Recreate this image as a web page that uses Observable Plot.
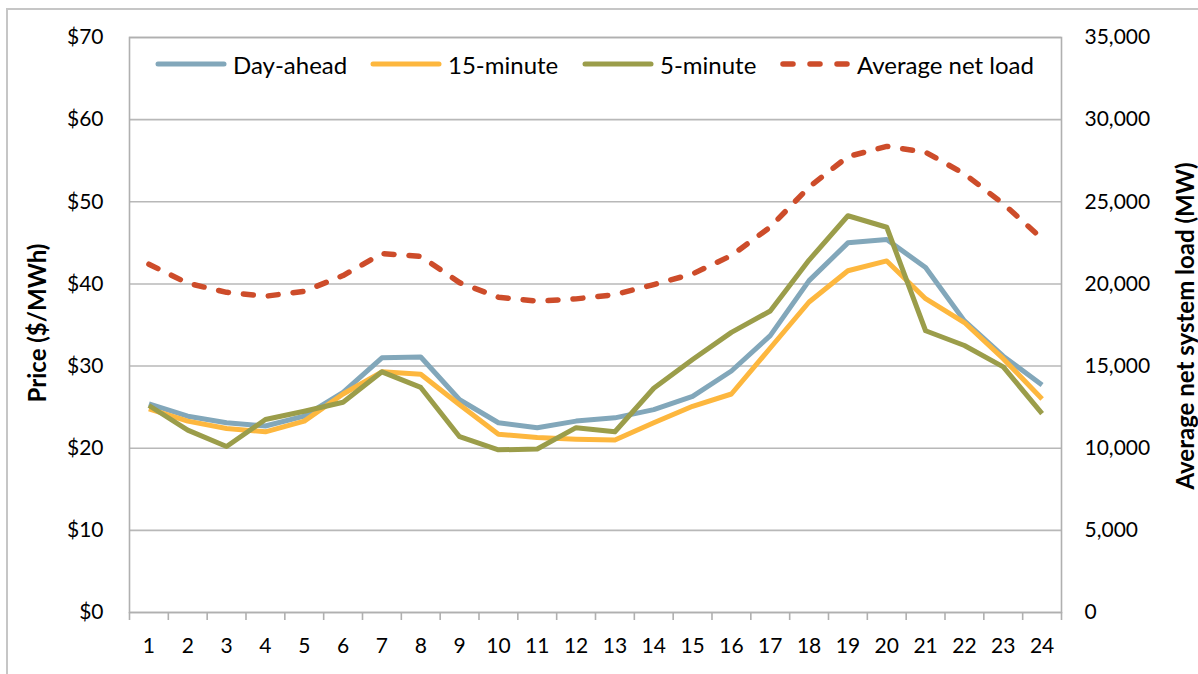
<!DOCTYPE html>
<html>
<head>
<meta charset="utf-8">
<script src="https://cdn.jsdelivr.net/npm/d3@7"></script>
<script src="https://cdn.jsdelivr.net/npm/@observablehq/plot@0.6"></script>
<style>
  html, body { margin: 0; padding: 0; background: #fff; }
  #wrap { position: relative; width: 1198px; height: 674px; overflow: hidden; font-family: Lato, "Open Sans", sans-serif; color: #000; }
  #border { position: absolute; left: 6px; top: 8px; width: 1300px; height: 800px; border-left: 2px solid #c6c6c6; border-top: 2px solid #c6c6c6; box-sizing: border-box; }
  #chart { position: absolute; left: 0; top: 0; }
  .ytitle { position: absolute; font-weight: bold; font-size: 24px; line-height: 1; white-space: nowrap; transform: translate(-50%, -50%) rotate(-90deg); }
  .leg { position: absolute; top: 50px; height: 28px; display: flex; align-items: center; font-size: 24px; white-space: nowrap; }
  .leg svg { margin-right: 6px; }
</style>
</head>
<body>
<div id="wrap">
  <div id="border"></div>
  <div id="chart"></div>
</div>
<script>
// ---- data ----
const hours = [1,2,3,4,5,6,7,8,9,10,11,12,13,14,15,16,17,18,19,20,21,22,23,24];
const dayAhead   = [25.4,23.9,23.1,22.7,23.9,26.8,31.0,31.1,25.9,23.1,22.5,23.3,23.7,24.7,26.3,29.4,33.7,40.4,45.0,45.4,42.0,35.5,31.2,27.7];
const fifteenMin = [24.8,23.3,22.4,22.0,23.3,26.6,29.3,29.0,25.3,21.7,21.3,21.1,21.0,23.1,25.1,26.6,32.2,37.8,41.6,42.8,38.2,35.3,30.9,26.0];
const fiveMin    = [25.2,22.2,20.2,23.5,24.5,25.6,29.3,27.4,21.4,19.8,19.9,22.5,22.0,27.3,30.8,34.1,36.7,42.9,48.3,46.9,34.3,32.5,29.9,24.2];
const netLoad    = [21200,20040,19490,19250,19550,20510,21850,21680,20080,19190,18950,19090,19350,19960,20610,21730,23460,25900,27750,28370,28020,26700,24880,22750];
const seriesNames = ["Day-ahead","15-minute","5-minute","Average net load"];
const priceTicks = [0,10,20,30,40,50,60,70];
const loadTicks = [0,5000,10000,15000,20000,25000,30000,35000];

// ---- styles ----
const colors = {"Day-ahead":"#82A7BA","15-minute":"#FDB73E","5-minute":"#9B9D4A","Average net load":"#CD4C2A"};
const loadMax = 35000, priceMax = 70, ratio = loadMax / priceMax;

const priceSeries = [["Day-ahead", dayAhead], ["15-minute", fifteenMin], ["5-minute", fiveMin]];
const rows = [];
for (const [name, vals] of priceSeries) hours.forEach((h, i) => rows.push({series: name, hour: h, value: vals[i]}));
const loadRows = hours.map((h, i) => ({hour: h, load: netLoad[i]}));

const bandEdges = hours.map(h => h - 0.5).concat([hours[hours.length - 1] + 0.5]);

const plot = Plot.plot({
  width: 1198,
  height: 674,
  marginLeft: 129,
  marginRight: 137,
  marginTop: 37,
  marginBottom: 62,
  style: {fontFamily: "Lato, 'Open Sans', sans-serif", fontSize: "21px", color: "#000", background: "transparent", overflow: "visible"},
  x: {type: "linear", domain: [bandEdges[0], bandEdges[bandEdges.length - 1]], label: null},
  y: {type: "linear", domain: [0, priceMax], label: null},
  marks: [
    Plot.gridY(priceTicks, {stroke: "#b8b8b8", strokeOpacity: 1, strokeWidth: 1.6}),
    Plot.frame({stroke: "#b0b0b0", strokeWidth: 1.6}),
    Plot.axisX(bandEdges, {tickSize: 8, tickFormat: () => "", stroke: "#b0b0b0", strokeWidth: 1.6, label: null}),
    Plot.axisX(hours, {tickSize: 0, tickPadding: 26, tickFormat: d => String(d), label: null}),
    Plot.axisY(priceTicks, {anchor: "left", tickSize: 0, tickPadding: 26, tickFormat: d => "$" + d, label: null}),
    Plot.axisY(loadTicks.map(v => v / ratio), {anchor: "right", tickSize: 0, tickPadding: 23, tickFormat: d => d3.format(",")(Math.round(d * ratio)), textAnchor: "start", label: null}),
    Plot.line(rows, {x: "hour", y: "value", z: "series", stroke: d => colors[d.series], strokeWidth: 5, strokeLinejoin: "round", strokeLinecap: "butt"}),
    Plot.line(loadRows, {x: "hour", y: d => d.load / ratio, stroke: colors["Average net load"], strokeWidth: 5.5, strokeDasharray: "10,15", strokeLinecap: "round", strokeLinejoin: "round"})
  ]
});
document.getElementById("chart").appendChild(plot);

// ---- axis titles ----
const wrap = document.getElementById("wrap");
function addTitle(text, cx, cy) {
  const d = document.createElement("div");
  d.className = "ytitle";
  d.textContent = text;
  d.style.left = cx + "px";
  d.style.top = cy + "px";
  wrap.appendChild(d);
}
addTitle("Price ($/MWh)", 37, 323);
addTitle("Average net system load (MW)", 1185, 326);

// ---- legend ----
const legendLeft = [155, 370, 582, 779];
seriesNames.forEach((name, i) => {
  const item = document.createElement("div");
  item.className = "leg";
  item.style.left = legendLeft[i] + "px";
  const dashed = name === "Average net load";
  item.innerHTML = `<svg width="72" height="10"><line x1="${dashed ? 4 : 3}" y1="5" x2="${dashed ? 68 : 69}" y2="5" stroke="${colors[name]}" stroke-width="${dashed ? 5.5 : 5}" stroke-linecap="round" ${dashed ? 'stroke-dasharray="10,17"' : ''}/></svg><span>${name}</span>`;
  wrap.appendChild(item);
});
</script>
</body>
</html>
